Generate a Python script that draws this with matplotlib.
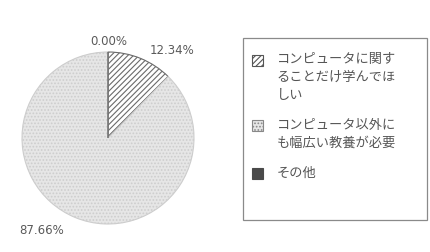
import matplotlib.pyplot as plt
from matplotlib.patches import Rectangle

plt.rcParams['font.family'] = ['Noto Sans CJK JP', 'DejaVu Sans']
plt.rcParams['hatch.linewidth'] = 0.8

# data
categories = ['コンピュータに関す\nることだけ学んでほ\nしい',
              'コンピュータ以外に\nも幅広い教養が必要',
              'その他']
shares = [12.34, 87.66, 0.00]
pct_labels = ['12.34%', '87.66%', '0.00%']

fill_colors = ['white', '#e6e6e6', '#4a4a4a']
edge_colors = ['#6a6a6a', '#cdcdcd', '#4a4a4a']
hatches = ['//////', '.....', None]

W, H = 430, 252
fig = plt.figure(figsize=(W / 100, H / 100), dpi=100)

# pie axes: centre ~ (108,138) px, radius ~86 px
ax = fig.add_axes([22 / W, 28 / H, 172 / W, 172 / H])
wedges, _ = ax.pie(shares, startangle=90, counterclock=False, radius=1,
                   wedgeprops=dict(linewidth=0.8))
for w, fc, ec, h in zip(wedges, fill_colors, edge_colors, hatches):
    w.set_facecolor(fc)
    w.set_edgecolor(ec)
    if h:
        w.set_hatch(h)
ax.set_xlim(-1, 1)
ax.set_ylim(-1, 1)
ax.set_aspect('equal')

# percentage labels
lab_pos = [(0.74, 1.02), (-0.77, -1.07), (0.01, 1.12)]
for txt, (x, y) in zip(pct_labels, lab_pos):
    ax.text(x, y, txt, ha='center', va='center', fontsize=8.5,
            color='#5a5a5a', family='DejaVu Sans', clip_on=False)

# legend box (drawn by hand so the box can be taller than its content)
fig.patches.append(Rectangle((243 / W, 1 - 220 / H), 184 / W, 182 / H,
                             transform=fig.transFigure, fill=False,
                             edgecolor='#8a8a8a', linewidth=0.9))

key_edges = ['#555555', '#888888', '#4a4a4a']
y = 60  # px from top, centre of first text line
for cat, fc, ec, h in zip(categories, fill_colors, key_edges, hatches):
    fig.patches.append(Rectangle((252 / W, 1 - (y + 5.5) / H), 11 / W, 11 / H,
                                 transform=fig.transFigure, facecolor=fc,
                                 edgecolor=ec, hatch=h, linewidth=0.8))
    for line in cat.split('\n'):
        fig.text(277 / W, 1 - y / H, line, fontsize=9.5, color='#555555',
                 ha='left', va='center')
        y += 17.5
    y += 13

fig.savefig('out.png', dpi=100)
